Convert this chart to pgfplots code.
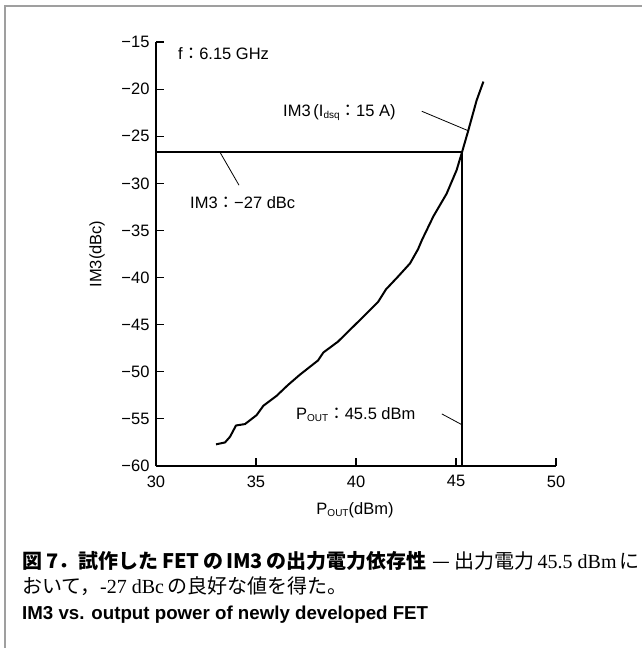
\documentclass[border=0pt]{standalone}
\usepackage{fontspec}
\setmainfont{Liberation Sans}
\newfontfamily\cjk{Noto Sans CJK JP}
\newfontfamily\lserif{Liberation Serif}
\usepackage{pgfplots}
\pgfplotsset{compat=1.18}

\newcommand\lf{\fontsize{16.5}{19}\selectfont}
\newcommand\sub[1]{\raisebox{-0.3ex}{\fontsize{10}{10}\selectfont #1}}
\newcommand\cc{{\cjk ：}}

\begin{document}
\begin{tikzpicture}
\path[use as bounding box] (0pt,0pt) rectangle (642pt,-648pt);
\draw[gray!75, line width=1.5pt] (5pt,-648pt) -- (5pt,-6pt) -- (642pt,-6pt);

\begin{axis}[
    at={(156pt,-466pt)}, anchor=south west,
    width=400pt, height=424pt, scale only axis,
    xmin=30, xmax=50, ymin=-60, ymax=-15,
    axis x line*=bottom, axis y line*=left,
    axis line style={line width=1.5pt},
    xtick={30,35,40,45,50},
    xticklabels={30,35,40,45,50},
    ytick={-60,-55,-50,-45,-40,-35,-30,-25,-20,-15},
    yticklabels={−60,−55,−50,−45,−40,−35,−30,−25,−20,−15},
    tick align=inside, major tick length=8pt,
    tick style={black, line width=1.2pt},
    tick label style={font=\lf},
    xticklabel style={yshift=-6pt},
    yticklabel style={xshift=-3pt},
    clip=false,
]
% IM3 curve
\addplot[black, line width=2pt, line join=round] coordinates {
    (33.0,-57.7) (33.45,-57.5) (33.7,-56.9) (34.0,-55.7) (34.45,-55.55)
    (35.03,-54.6) (35.37,-53.6) (36.03,-52.55) (36.6,-51.4) (37.2,-50.3)
    (38.1,-48.8) (38.37,-47.95) (39.1,-46.8) (39.6,-45.75) (40.2,-44.5)
    (41.1,-42.6) (41.5,-41.25) (42.1,-39.9) (42.7,-38.5) (43.1,-37.0)
    (43.3,-36.0) (43.87,-33.5) (44.53,-31.1) (45.03,-28.6) (45.3,-26.7)
    (45.6,-24.5) (46.03,-21.2) (46.37,-19.2)
};
% -27 dBc and 45.5 dBm guides
\addplot[black, line width=2pt] coordinates {(30,-26.7) (45.3,-26.7)};
\addplot[black, line width=2pt] coordinates {(45.3,-60) (45.3,-26.7)};

% leaders
\draw[line width=0.8pt] (axis cs:43.29,-22.35) -- (axis cs:45.65,-24.45);
\draw[line width=0.8pt] (axis cs:33.2,-26.7) -- (axis cs:34.15,-30.2);
\draw[line width=0.8pt] (axis cs:44.29,-54.47) -- (axis cs:45.28,-55.6);

% annotations
\node[anchor=west, font=\lf, inner sep=0pt] at (axis cs:31.1,-16.22) {f\cc 6.15 GHz};
\node[anchor=west, font=\lf, inner sep=0pt] at (axis cs:36.35,-22.5) {IM3\,(I\sub{dsq}\cc 15 A)};
\node[anchor=west, font=\lf, inner sep=0pt] at (axis cs:31.7,-32.0) {IM3\cc −27 dBc};
\node[anchor=west, font=\lf, inner sep=0pt] at (axis cs:37.0,-54.55) {P\sub{OUT}\cc 45.5 dBm};
\end{axis}

% axis titles
\node[rotate=90, font=\lf] at (97pt,-254pt) {IM3(dBc)};
\node[font=\lf] at (355pt,-510pt) {P\sub{OUT}(dBm)};

% caption
\node[anchor=west, inner sep=0pt, font=\fontsize{20}{22}\selectfont] at (22pt,-561pt)
  {{\cjk\bfseries 図 7．試作した\,FET\,の\,IM3\,の出力電力依存性} {\cjk — 出力電力}\,{\lserif 45.5 dBm}\,{\cjk に}};
\node[anchor=west, inner sep=0pt, font=\fontsize{20}{22}\selectfont] at (22pt,-586pt)
  {{\cjk おいて，}{\lserif -27 dBc}\,{\cjk の良好な値を得た。}};
\node[anchor=west, inner sep=0pt, font=\fontsize{18.7}{20}\selectfont\bfseries] at (22pt,-615pt)
  {IM3 vs. output power of newly developed FET};
\end{tikzpicture}
\end{document}
